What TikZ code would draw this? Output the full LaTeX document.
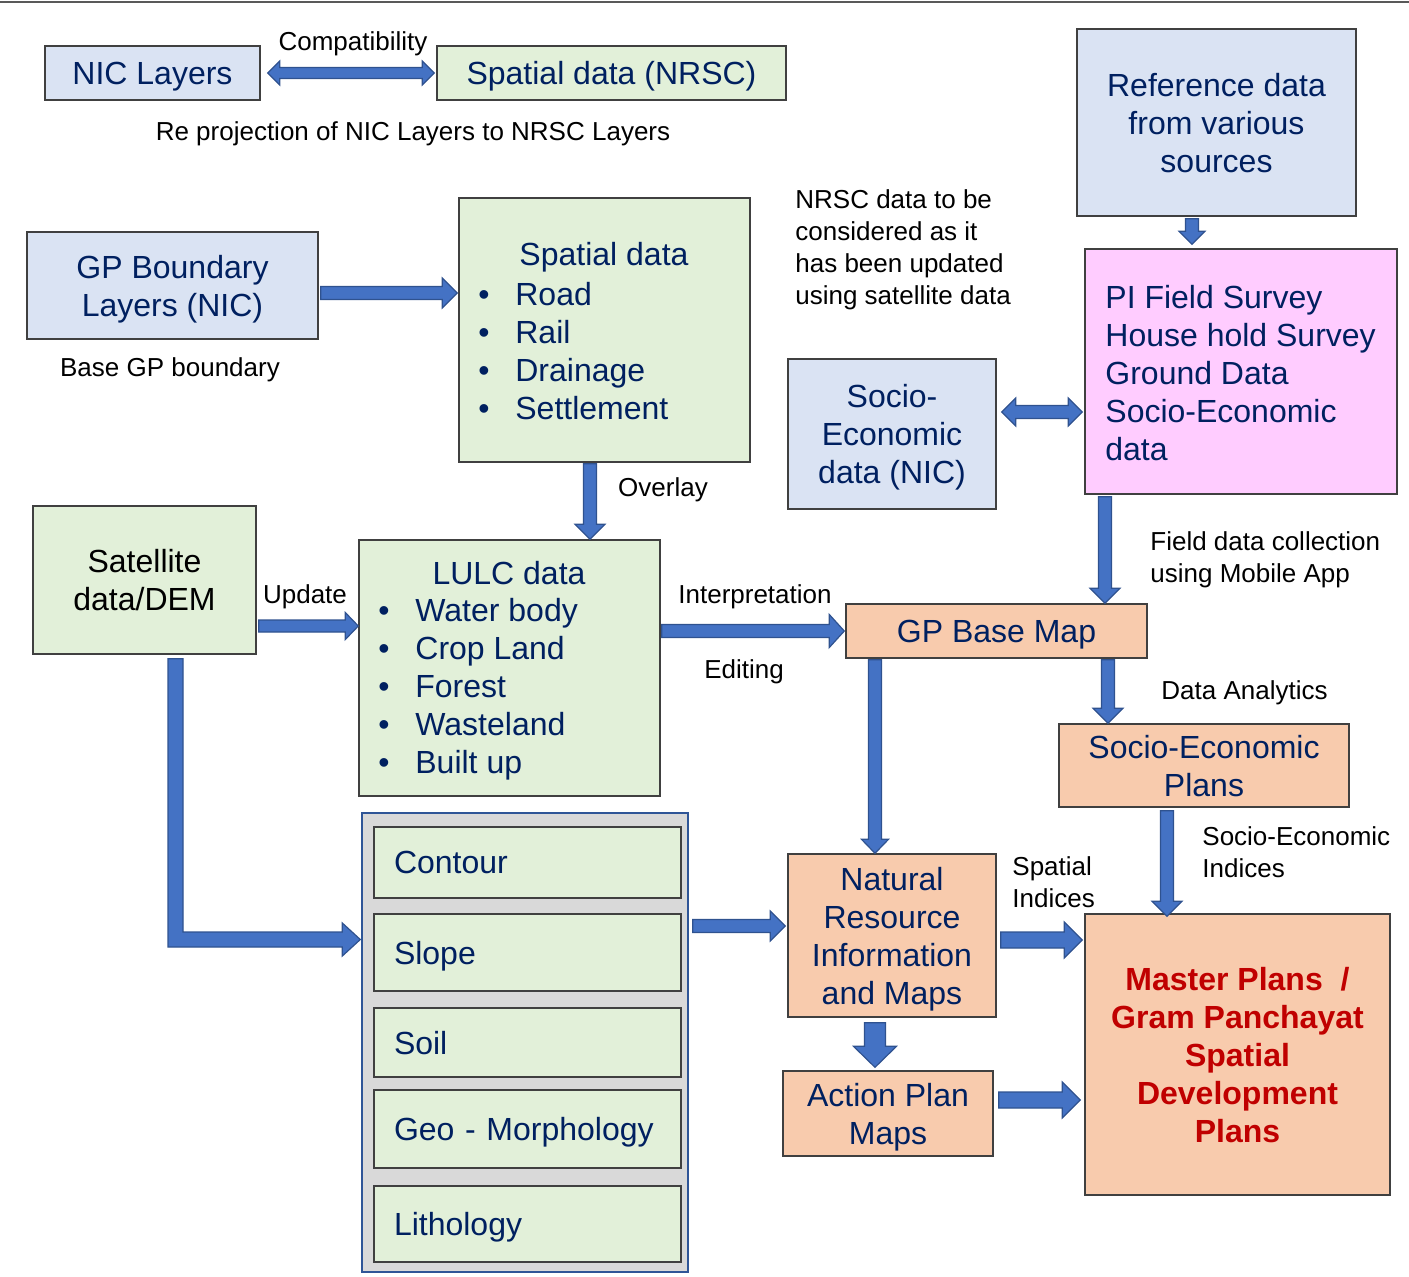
\documentclass[tikz,border=0pt]{standalone}
\usepackage{fontspec}
\setmainfont{Liberation Sans}
\usetikzlibrary{calc}
\definecolor{lblue}{HTML}{DAE3F3}
\definecolor{lgreen}{HTML}{E2F0D9}
\definecolor{peach}{HTML}{F8CBAD}
\definecolor{pibg}{HTML}{FFCCFF}
\definecolor{greybg}{HTML}{D9D9D9}
\definecolor{navy}{HTML}{002060}
\definecolor{afill}{HTML}{4472C4}
\definecolor{aline}{HTML}{2F528F}
\definecolor{bline}{HTML}{404040}
\definecolor{topline}{HTML}{595959}
\definecolor{mred}{HTML}{C00000}
\definecolor{gborder}{HTML}{2F5597}
\newcommand{\boxfont}{\fontsize{16}{19}\selectfont}
\newcommand{\lblfont}{\fontsize{13}{16}\selectfont}
\newcommand{\blt}{\makebox[18.5pt][l]{\textbullet}}
\tikzset{
  box/.style={draw=bline, line width=0.7pt, inner sep=0pt, align=center, text=navy, font=\boxfont, text depth=0pt},
  sz/.style 2 args={minimum width=#1*0.5pt, minimum height=#2*0.5pt},
  lbl/.style={inner sep=0pt, align=left, font=\lblfont, text=black, text depth=0pt},
  btxt/.style={inner sep=0pt, align=left, font=\boxfont, text=navy},
  lbox/.style={box, fill=lgreen, text width=267*0.5pt, inner xsep=10pt, align=left},
  barr/.style={fill=afill, draw=aline, line width=0.6pt, line join=miter},
}
% single block arrow: shaft half width, head half width, head length, from, to
\newcommand{\barrow}[5]{%
  \coordinate (ba-s) at (#4); \coordinate (ba-e) at (#5);
  \coordinate (ba-h) at ($(ba-e)!#3!(ba-s)$);
  \draw[barr] ($(ba-s)!#1!90:(ba-e)$) -- ($(ba-h)!#1!90:(ba-e)$) -- ($(ba-h)!#2!90:(ba-e)$) -- (ba-e)
    -- ($(ba-h)!#2!-90:(ba-e)$) -- ($(ba-h)!#1!-90:(ba-e)$) -- ($(ba-s)!#1!-90:(ba-e)$) -- cycle;}
\newcommand{\barrowd}[2]{\barrow{3.25pt}{7.5pt}{7.5pt}{#1}{#2}}
% double block arrow
\newcommand{\dbarrow}[5]{%
  \coordinate (ba-s) at (#4); \coordinate (ba-e) at (#5);
  \coordinate (ba-h) at ($(ba-e)!#3!(ba-s)$);
  \coordinate (ba-g) at ($(ba-s)!#3!(ba-e)$);
  \draw[barr] (ba-s) -- ($(ba-g)!#2!90:(ba-e)$) -- ($(ba-g)!#1!90:(ba-e)$) -- ($(ba-h)!#1!90:(ba-e)$) -- ($(ba-h)!#2!90:(ba-e)$) -- (ba-e)
    -- ($(ba-h)!#2!-90:(ba-e)$) -- ($(ba-h)!#1!-90:(ba-e)$) -- ($(ba-g)!#1!-90:(ba-e)$) -- ($(ba-g)!#2!-90:(ba-e)$) -- cycle;}
\begin{document}
\begin{tikzpicture}[x=0.5pt, y=-0.5pt]
\useasboundingbox (0,0) rectangle (1409,1276);
\draw[topline, line width=1.4pt] (0,2) -- (1409,2);

% top row
\node[box, fill=lblue, sz={215}{54}] (nic) at (152.5,73) {NIC Layers};
\node[box, fill=lgreen, sz={349}{54}] (nrsc) at (611.5,73) {Spatial data (NRSC)};
\node[lbl] (compat) at (353,41) {Compatibility};
\node[lbl] (reproj) at (413,131) {Re projection of NIC Layers to NRSC Layers};

\node[box, fill=lblue, sz={279}{187}] (ref) at (1216.5,122.5) {Reference data\\from various\\sources};
\node[box, fill=pibg, sz={312}{245}] (pi) at (1241,371.5) {};
\node[btxt, text depth=0pt, anchor=west] (pit) at (1105,373)
  {PI Field Survey\\House hold Survey\\Ground Data\\Socio-Economic\\data};

\node[box, fill=lblue, sz={291}{107}] (gpb) at (172.5,285.5) {GP Boundary\\Layers (NIC)};
\node[lbl] (basegp) at (170,367) {Base GP boundary};

\node[box, fill=lgreen, sz={291}{264}] (sd) at (604.5,330) {};
\node[btxt] (sdt) at (604,257) {Spatial data};
\node[btxt, anchor=west] (sdl) at (478,351) {\blt Road\\\blt Rail\\\blt Drainage\\\blt Settlement};

\node[lbl, anchor=west] (nrscnote) at (795,247) {NRSC data to be\\considered as it\\has been updated\\using satellite data};

\node[box, fill=lblue, sz={208}{150}] (sen) at (892,434) {Socio-\\Economic\\data (NIC)};

\node[box, fill=lgreen, sz={223}{148}, text=black] (sat) at (144.5,580) {Satellite\\data/DEM};
\node[lbl] (upd) at (305,594) {Update};

\node[box, fill=lgreen, sz={301}{256}] (lulc) at (509.5,668) {};
\node[btxt] (lulct) at (509,573) {LULC data};
\node[btxt, anchor=west] (lulcl) at (378,689) {\blt Water body\\\blt Crop Land\\\blt Forest\\\blt Wasteland\\\blt Built up};

\node[lbl] (overlay) at (663,487) {Overlay};
\node[lbl] (interp) at (755,594) {Interpretation};
\node[lbl] (edit) at (744,669) {Editing};

\node[box, fill=peach, sz={301}{54}] (gpbm) at (996.5,631) {GP Base Map};
\node[lbl, anchor=west] (field) at (1150,557) {Field data collection\\using Mobile App};
\node[lbl, anchor=west] (analyt) at (1161,690) {Data Analytics};

\node[box, fill=peach, sz={290}{83}] (sep) at (1204,765.5) {Socio-Economic\\Plans};
\node[lbl, anchor=west] (seidx) at (1202,852) {Socio-Economic\\Indices};

\node[box, fill=peach, sz={208}{163}] (nrim) at (892,935.5) {Natural\\Resource\\Information\\and Maps};
\node[lbl, anchor=west] (spidx) at (1012,882) {Spatial\\Indices};

\node[box, fill=peach, sz={210}{85}] (apm) at (888,1113.5) {Action Plan\\Maps};

\node[box, fill=peach, sz={305}{281}, text=mred, font=\boxfont\bfseries] (mp) at (1237.5,1054.5)
  {Master Plans\ \ /\\Gram Panchayat\\Spatial\\Development\\Plans};

% grey container with layers
\node[draw=gborder, fill=greybg, line width=0.7pt, sz={326}{459}, inner sep=0pt] (grey) at (525,1042.5) {};
\node[lbox, sz={307}{71}] (contour) at (527.5,862.5) {Contour};
\node[lbox, sz={307}{77}] (slope) at (527.5,952.5) {Slope};
\node[lbox, sz={307}{69}] (soil) at (527.5,1042.5) {Soil};
\node[lbox, sz={307}{78}] (geo) at (527.5,1129) {Geo - Morphology};
\node[lbox, sz={307}{76}] (litho) at (527.5,1224) {Lithology};

% arrows
\dbarrow{2.75pt}{6pt}{6pt}{$(nic.east)+(7,0)$}{$(nrsc.west)+(-2,0)$}
\barrowd{$(gpb.east)+(2,7.5)$}{$(sd.west)+(-1,-37)$}
\barrow{3.25pt}{6.5pt}{6.5pt}{$(ref.south)+(-24.5,2)$}{$(pi.north)+(-49,-4)$}
\barrowd{$(sd.south)+(-14.5,1)$}{$(lulc.north)+(80.5,0)$}
\barrow{3pt}{6.75pt}{6.5pt}{$(sat.east)+(2,46)$}{$(lulc.west)+(0,-42)$}
\barrow{3.25pt}{8.25pt}{7.5pt}{$(lulc.east)+(1,-37)$}{$(gpbm.west)+(-1,0)$}
\dbarrow{3.25pt}{7pt}{7pt}{$(sen.east)+(5,-22)$}{$(pi.west)+(-2,40.5)$}
\barrowd{$(pi.south)+(-136,2)$}{$(gpbm.north)+(108.5,0)$}
\barrowd{$(gpbm.south)+(111.5,1)$}{$(sep.north)+(-96,0)$}
\barrow{3.25pt}{6.75pt}{7pt}{$(gpbm.south)+(-121.5,1)$}{$(nrim.north)+(-17,0)$}
\barrowd{$(sep.south)+(-37,3)$}{$(mp.north)+(-70.5,3)$}
\barrow{4pt}{9pt}{9pt}{$(nrim.east)+(4,4.5)$}{$(mp.west)+(-2,-114.5)$}
\barrowd{$(grey.east)+(4,-116.5)$}{$(nrim.west)+(-2,-9.5)$}
\barrow{5.25pt}{10.75pt}{10.5pt}{$(nrim.south)+(-17,5)$}{$(apm.north)+(-13,-3)$}
\barrow{4pt}{9pt}{9pt}{$(apm.east)+(5,-13.5)$}{$(mp.west)+(-4,45.5)$}

% elbow arrow satellite -> layers
\coordinate (e1) at ($(sat.south)+(31,4)$);
\coordinate (e2) at ($(grey.west)+(-1,-103)$);
\draw[barr] let \p1=(e1), \p2=(e2) in
  (\x1-3.75pt,\y1) -- (\x1+3.75pt,\y1) -- (\x1+3.75pt,\y2+3.75pt) -- (\x2-9pt,\y2+3.75pt)
  -- (\x2-9pt,\y2+8.25pt) -- (\x2,\y2) -- (\x2-9pt,\y2-8.25pt) -- (\x2-9pt,\y2-3.75pt)
  -- (\x1-3.75pt,\y2-3.75pt) -- cycle;
\end{tikzpicture}
\end{document}
